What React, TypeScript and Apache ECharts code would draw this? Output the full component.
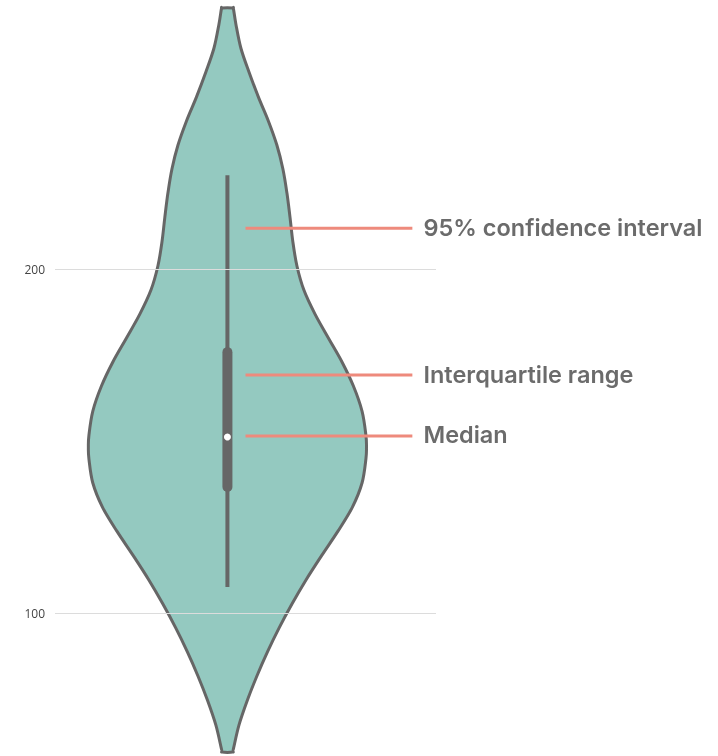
import React, { useEffect, useRef } from "react";
import * as echarts from "echarts";

// Violin outline: value (y) and normalised half-width (1 = widest)
const densityValues = [275.9, 275.7, 271.2, 264.2, 257.3, 250.0, 243.0, 236.0, 229.1, 222.1, 215.1, 207.8, 200.9, 193.9, 186.9, 179.9, 173.0, 166.0, 158.7, 151.7, 148.2, 144.8, 137.8, 130.8, 123.8, 116.6, 109.6, 102.6, 95.6, 88.7, 81.7, 74.7, 67.4, 60.5, 59.6];
const densityWidths = [0.036, 0.043, 0.061, 0.097, 0.155, 0.223, 0.295, 0.356, 0.399, 0.428, 0.45, 0.471, 0.5, 0.55, 0.63, 0.727, 0.824, 0.906, 0.968, 0.996, 1.0, 0.996, 0.968, 0.899, 0.795, 0.676, 0.565, 0.464, 0.371, 0.288, 0.212, 0.144, 0.083, 0.043, 0.036];

// Box statistics
const whiskerLow = 107.6;
const q1 = 135.2;
const median = 151.2;
const q3 = 177.3;
const whiskerHigh = 227.3;

// Annotations
const annotationLabels = ["95% confidence interval", "Interquartile range", "Median"];
const annotationValues = [211.9, 169.2, 151.5];

// Axis ticks
const tickValues = [100, 200];

// Closed Catmull-Rom outline through pixel points (drawing only)
const ViolinShape = echarts.graphic.extendShape({
  shape: { points: [] as number[][] },
  buildPath(ctx: any, shape: any) {
    const p = shape.points as number[][];
    const n = p.length;
    if (n < 3) return;
    ctx.moveTo(p[0][0], p[0][1]);
    for (let i = 0; i < n; i++) {
      const p0 = p[(i - 1 + n) % n];
      const p1 = p[i];
      const p2 = p[(i + 1) % n];
      const p3 = p[(i + 2) % n];
      const c1x = p1[0] + (p2[0] - p0[0]) / 6;
      const c1y = p1[1] + (p2[1] - p0[1]) / 6;
      const c2x = p2[0] - (p3[0] - p1[0]) / 6;
      const c2y = p2[1] - (p3[1] - p1[1]) / 6;
      ctx.bezierCurveTo(c1x, c1y, c2x, c2y, p2[0], p2[1]);
    }
    ctx.closePath();
  },
});
echarts.graphic.registerShape("violinShape", ViolinShape);

export default function App() {
  const ref = useRef<HTMLDivElement>(null);
  useEffect(() => {
    if (!ref.current) return;
    const chart = echarts.init(ref.current, null, { renderer: "svg" });
    const outline: number[][] = [];
    for (let i = 0; i < densityValues.length; i++) outline.push([densityWidths[i], densityValues[i]]);
    for (let i = densityValues.length - 1; i >= 0; i--) outline.push([-densityWidths[i], densityValues[i]]);

    chart.setOption({
      animation: false,
      grid: { left: 55, right: 282, top: 8, bottom: 4 },
      xAxis: { type: "value", min: -1.24, max: 1.5, show: false },
      yAxis: {
        type: "value", min: 59.6, max: 275.9, show: false,
      },
      series: [
        {
          type: "line",
          data: [],
          silent: true,
          markLine: {
            silent: true,
            symbol: "none",
            lineStyle: { color: "#dcdcdc", width: 1, type: "solid" },
            label: {
              position: "start",
              distance: 10,
              color: "#444",
              fontSize: 12,
              fontFamily: "Open Sans",
              formatter: "{c}",
            },
            data: tickValues.map((v) => ({ yAxis: v })),
          },
        },
        {
          type: "custom",
          data: [0],
          renderItem: (params: any, api: any) => {
            const pts = outline.map((p) => api.coord(p));
            const c = (v: number) => api.coord([0, v]);
            const children: any[] = [
              {
                type: "violinShape",
                shape: { points: pts },
                style: { fill: "#94c9c0", stroke: "#666", lineWidth: 3, lineJoin: "round" },
              },
              {
                type: "line",
                shape: { x1: c(0)[0], y1: c(whiskerHigh)[1], x2: c(0)[0], y2: c(whiskerLow)[1] },
                style: { stroke: "#666", lineWidth: 4 },
              },
              {
                type: "rect",
                shape: { x: c(0)[0] - 5, y: c(q3)[1], width: 10, height: c(q1)[1] - c(q3)[1], r: 5 },
                style: { fill: "#666" },
              },
              {
                type: "circle",
                shape: { cx: c(median)[0], cy: c(median)[1], r: 3.5 },
                style: { fill: "#fff" },
              },
            ];
            annotationValues.forEach((v, i) => {
              const a = api.coord([0.13, v]);
              const b = api.coord([1.33, v]);
              const t = api.coord([1.41, v]);
              children.push({
                type: "line",
                shape: { x1: a[0], y1: a[1], x2: b[0], y2: b[1] },
                style: { stroke: "#ee8a7c", lineWidth: 3 },
              });
              children.push({
                type: "text",
                x: t[0],
                y: t[1] - 1,
                style: {
                  text: annotationLabels[i],
                  fill: "#6b6b6b",
                  font: "600 23.5px Inter",
                  verticalAlign: "middle",
                  align: "left",
                },
              });
            });
            return { type: "group", children };
          },
        },
      ],
    });
    return () => chart.dispose();
  }, []);
  return <div ref={ref} style={{ position: "fixed", left: 0, top: 0, width: 718, height: 756 }} />;
}
